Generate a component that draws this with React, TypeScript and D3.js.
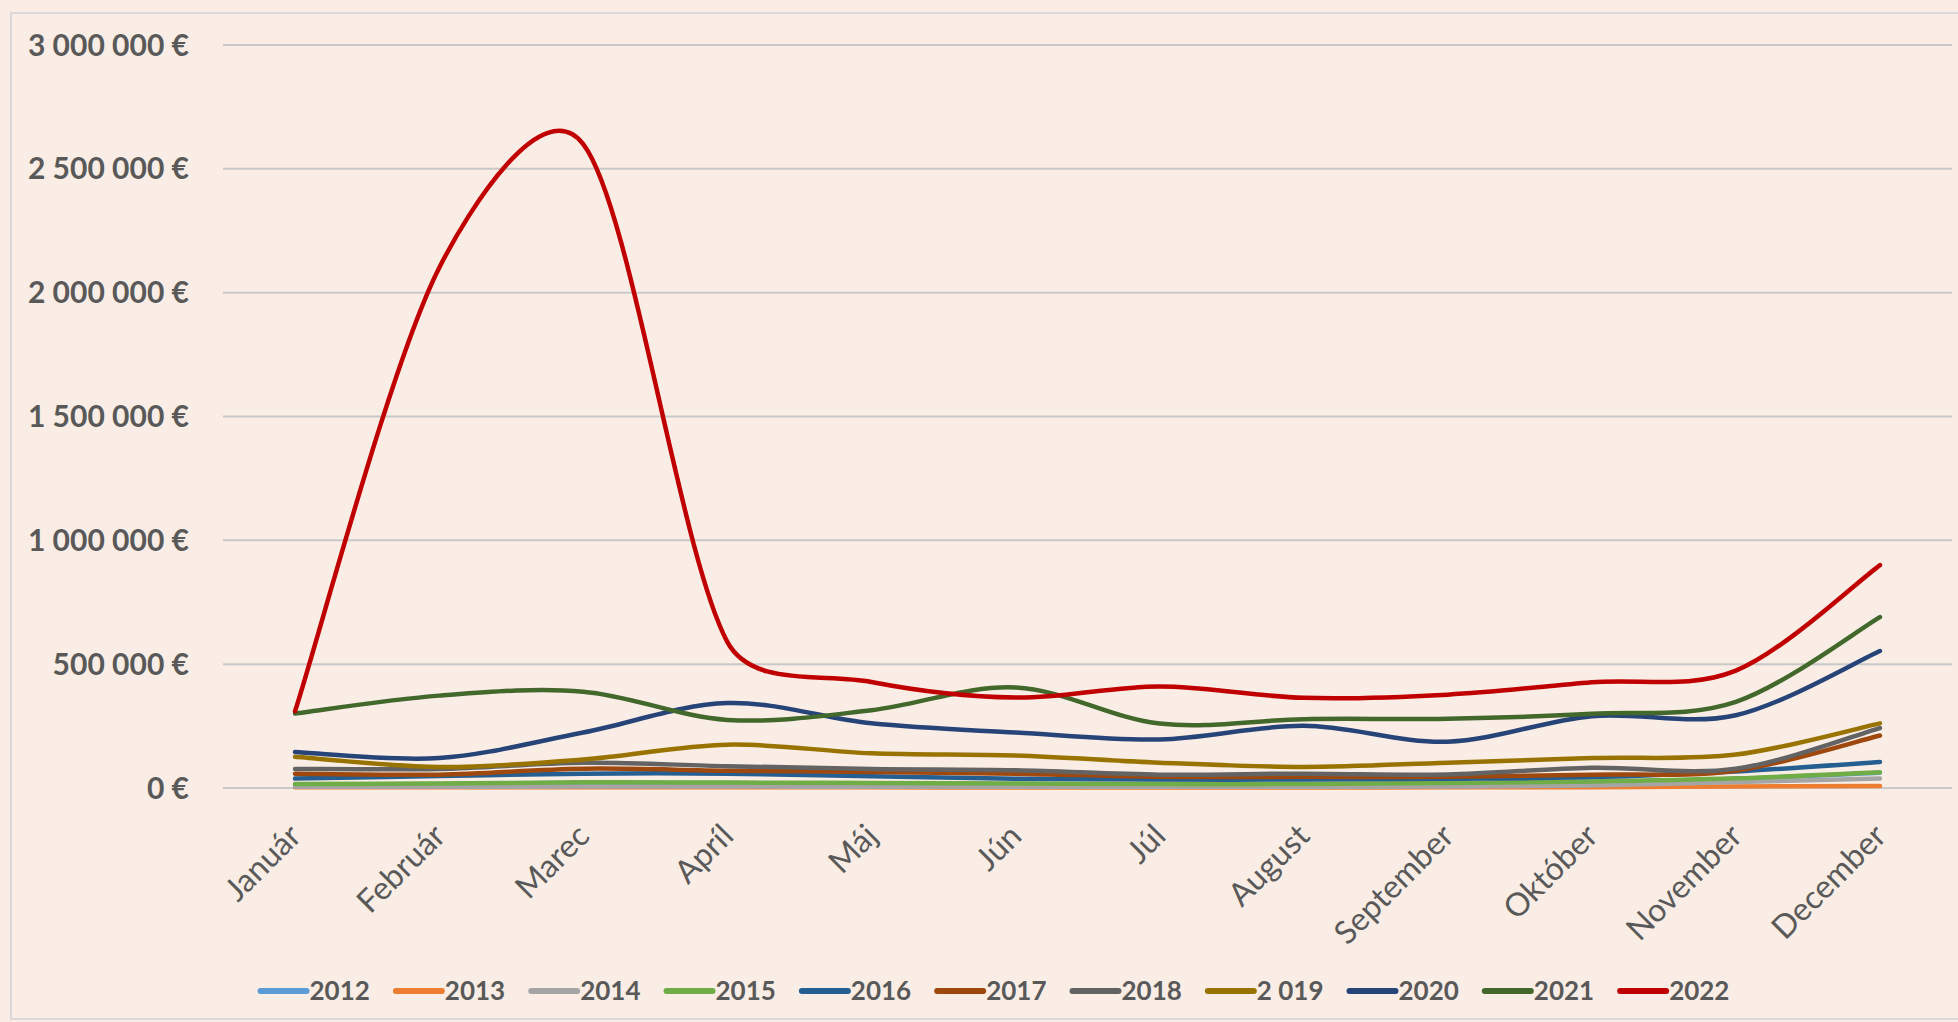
import React, { useRef, useEffect } from "react";
import * as d3 from "d3";

const months = ["Január", "Február", "Marec", "Apríl", "Máj", "Jún", "Júl", "August", "September", "Október", "November", "December"];
const yTicks = [0, 500000, 1000000, 1500000, 2000000, 2500000, 3000000];

const s2012 = [14000, 16000, 21000, 20000, 18000, 16000, 14000, 14000, 18000, 24000, 37000, 62000];
const s2013 = [3000, 3000, 3000, 3000, 3000, 2000, 2000, 2000, 3000, 3000, 6000, 8000];
const s2014 = [5000, 5000, 6000, 6000, 5000, 5000, 5000, 5000, 6000, 10000, 24000, 38000];
const s2015 = [16000, 18000, 23000, 22000, 20000, 18000, 16000, 16000, 20000, 26000, 39000, 64000];
const s2016 = [38000, 48000, 58000, 58000, 47000, 37000, 34000, 34000, 37000, 44000, 67000, 105000];
const s2017 = [58000, 54000, 78000, 70000, 65000, 58000, 45000, 45000, 45000, 54000, 70000, 212000];
const s2018 = [77000, 77000, 102000, 88000, 77000, 72000, 54000, 58000, 55000, 82000, 78000, 242000];
const s2019 = [126000, 85000, 115000, 175000, 140000, 131000, 102000, 85000, 102000, 121000, 135000, 261000];
const s2020 = [145000, 121000, 224000, 343000, 261000, 224000, 196000, 251000, 187000, 290000, 294000, 553000];
const s2021 = [301000, 373000, 389000, 275000, 314000, 406000, 260000, 278000, 280000, 300000, 348000, 690000];
const s2022 = [310000, 2100000, 2600000, 590000, 428000, 365000, 410000, 364000, 377000, 427000, 474000, 900000];

const seriesNames = ["2012", "2013", "2014", "2015", "2016", "2017", "2018", "2 019", "2020", "2021", "2022"];
const seriesColors = ["#5B9BD5", "#ED7D31", "#A5A5A5", "#70AD47", "#255E91", "#9E480E", "#636363", "#997300", "#264478", "#43682B", "#C00000"];
const seriesValues = [s2012, s2013, s2014, s2015, s2016, s2017, s2018, s2019, s2020, s2021, s2022];

const W = 1958;
const H = 1022;
const FONT = "Lato, 'Open Sans', sans-serif";
const TEXT = "#595959";

// catmull-rom handles, shortened when they get long compared to the segment
function smoothPath(pts, cap = 0.35) {
  const dist = (a, b) => Math.hypot(b[0] - a[0], b[1] - a[1]);
  const handle = (from, to, seg) => {
    const h = [(to[0] - from[0]) / 6, (to[1] - from[1]) / 6];
    const len = Math.hypot(h[0], h[1]);
    const s = len > cap * seg ? (cap * seg) / len : 1;
    return [h[0] * s, h[1] * s];
  };
  const n = pts.length;
  let d = `M${pts[0][0]},${pts[0][1]}`;
  for (let i = 0; i < n - 1; i++) {
    const p0 = pts[Math.max(i - 1, 0)];
    const p1 = pts[i];
    const p2 = pts[i + 1];
    const p3 = pts[Math.min(i + 2, n - 1)];
    const seg = dist(p1, p2);
    const h1 = handle(p0, p2, seg);
    const h2 = handle(p1, p3, seg);
    d += `C${p1[0] + h1[0]},${p1[1] + h1[1]} ${p2[0] - h2[0]},${p2[1] - h2[1]} ${p2[0]},${p2[1]}`;
  }
  return d;
}

const App = () => {
  const svgRef = useRef(null);

  useEffect(() => {
    document.body.style.margin = "0";
    const svg = d3.select(svgRef.current);
    svg.selectAll("*").remove();

    svg.append("rect").attr("width", W).attr("height", H).attr("fill", "#FAEDE5");
    svg
      .append("rect")
      .attr("x", 11)
      .attr("y", 13)
      .attr("width", W)
      .attr("height", H - 16)
      .attr("fill", "none")
      .attr("stroke", "#D9D9D9")
      .attr("stroke-width", 2);

    const x = d3.scaleBand().domain(months).range([223, 1952]);
    const cx = (m) => x(m) + x.bandwidth() / 2;
    const y = d3.scaleLinear().domain([0, 3000000]).range([788, 45]);

    // grid
    svg
      .append("g")
      .selectAll("line")
      .data(yTicks)
      .enter()
      .append("line")
      .attr("x1", 223)
      .attr("x2", 1952)
      .attr("y1", (d) => y(d))
      .attr("y2", (d) => y(d))
      .attr("stroke", "#C8C8C8")
      .attr("stroke-width", 2);

    const fmt = (v) => d3.format(",")(v).replace(/,/g, " ") + " €";
    svg
      .append("g")
      .selectAll("text")
      .data(yTicks)
      .enter()
      .append("text")
      .attr("x", 189)
      .attr("y", (d) => y(d))
      .attr("dy", "0.35em")
      .attr("text-anchor", "end")
      .attr("font-family", FONT)
      .attr("font-weight", 700)
      .attr("font-size", 30)
      .attr("fill", TEXT)
      .text(fmt);

    svg
      .append("g")
      .selectAll("text")
      .data(months)
      .enter()
      .append("text")
      .attr("transform", (d) => `translate(${cx(d) + 8},838) rotate(-45)`)
      .attr("text-anchor", "end")
      .attr("font-family", FONT)
      .attr("font-size", 32)
      .attr("fill", TEXT)
      .text((d) => d);

    // lines
    const lines = svg.append("g").attr("fill", "none");
    seriesValues.forEach((vals, i) => {
      const pts = vals.map((v, j) => [cx(months[j]), y(v)]);
      lines
        .append("path")
        .attr("d", smoothPath(pts))
        .attr("stroke", seriesColors[i])
        .attr("stroke-width", 4.5)
        .attr("stroke-linecap", "round")
        .attr("stroke-linejoin", "round");
    });

    // legend
    const legend = svg.append("g");
    const items = seriesNames.map((name, i) => {
      const g = legend.append("g");
      g.append("line")
        .attr("x1", 0)
        .attr("x2", 46)
        .attr("y1", 991)
        .attr("y2", 991)
        .attr("stroke", seriesColors[i])
        .attr("stroke-width", 6)
        .attr("stroke-linecap", "round");
      const t = g
        .append("text")
        .attr("x", 49)
        .attr("y", 1000)
        .attr("font-family", FONT)
        .attr("font-weight", 700)
        .attr("font-size", 26)
        .attr("fill", TEXT)
        .text(name);
      return { g, w: 49 + t.node().getComputedTextLength() };
    });
    const gap = 26;
    const total = d3.sum(items, (d) => d.w) + gap * (items.length - 1);
    let pos = 995 - total / 2;
    items.forEach((it) => {
      it.g.attr("transform", `translate(${pos},0)`);
      pos += it.w + gap;
    });
  }, []);

  return <svg ref={svgRef} width={W} height={H} style={{ display: "block" }}></svg>;
};

export default App;
